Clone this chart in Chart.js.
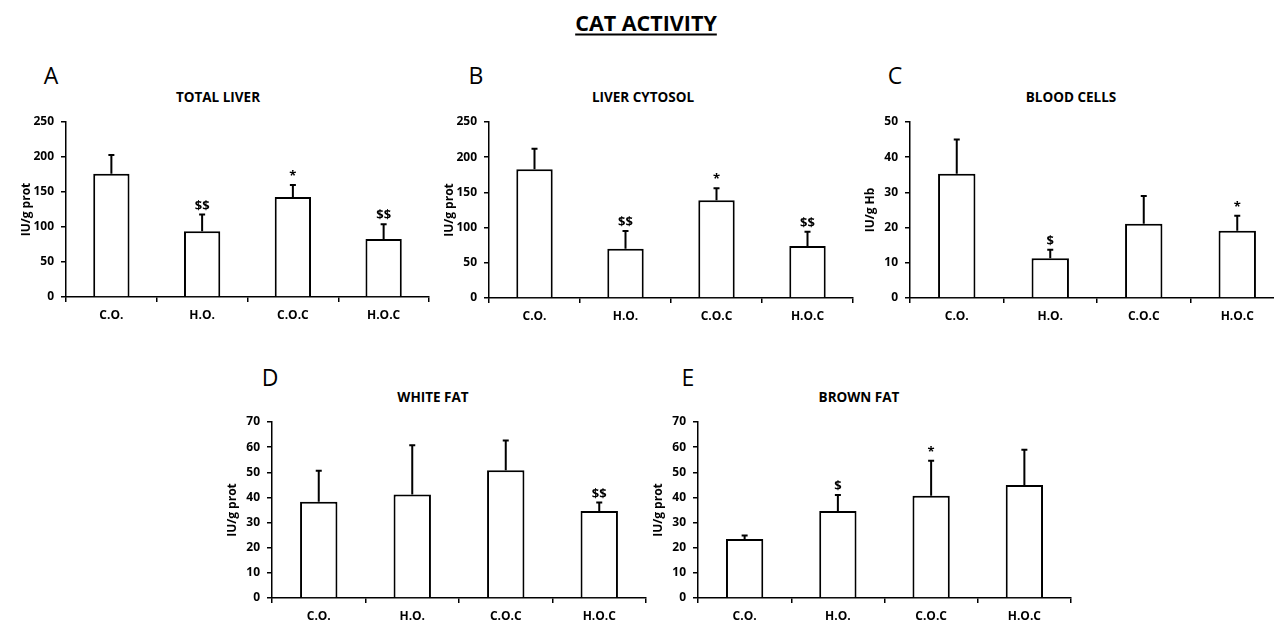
<!DOCTYPE html>
<html>
<head>
<meta charset="utf-8">
<script src="https://cdn.jsdelivr.net/npm/chart.js@4"></script>
<style>
  body { margin: 0; background: #fff; width: 1274px; height: 624px; overflow: hidden; position: relative; font-family: "Open Sans", Lato, sans-serif; }
  canvas { position: absolute; }
  .txt { position: absolute; color: #000; white-space: nowrap; transform: translate(-50%, -50%); }
  #mainTitle { left: 646px; top: 22px; font-size: 21.5px; font-weight: bold; text-decoration: underline; text-underline-offset: 3px; text-decoration-thickness: 2px; }
  .letter { font-size: 23px; }
  .sub { font-size: 13.5px; font-weight: bold; }
</style>
</head>
<body>
<div id="mainTitle" class="txt">CAT ACTIVITY</div>

<script>
const categories = ["C.O.", "H.O.", "C.O.C", "H.O.C"];

const totalLiverMeans = [176, 94, 143, 83];
const totalLiverErrors = [27, 24, 17, 21];
const totalLiverMarks = ["", "$$", "*", "$$"];

const cytosolMeans = [183, 70, 139, 74];
const cytosolErrors = [29, 25, 17, 20];
const cytosolMarks = ["", "$$", "*", "$$"];

const bloodMeans = [35.3, 11.3, 21.1, 19.1];
const bloodErrors = [9.7, 2.4, 7.9, 4.3];
const bloodMarks = ["", "$", "", "*"];

const whiteFatMeans = [38.3, 41.2, 50.8, 34.6];
const whiteFatErrors = [12.3, 19.6, 11.8, 3.4];
const whiteFatMarks = ["", "", "", "$$"];

const brownFatMeans = [23.5, 34.6, 40.7, 44.9];
const brownFatErrors = [1.4, 6.4, 13.9, 14.1];
const brownFatMarks = ["", "$", "*", ""];

const liverTicks = [0, 50, 100, 150, 200, 250];
const bloodTicks = [0, 10, 20, 30, 40, 50];
const fatTicks = [0, 10, 20, 30, 40, 50, 60, 70];

const FONT = "'Open Sans', Lato, sans-serif";

// upper error bars + significance marks
const errorBars = {
  id: "errorBars",
  afterDatasetsDraw(chart, args, opts) {
    const ctx = chart.ctx;
    const meta = chart.getDatasetMeta(0);
    const yScale = chart.scales.y;
    const values = chart.data.datasets[0].data;
    ctx.save();
    ctx.strokeStyle = "#000";
    ctx.fillStyle = "#000";
    ctx.lineWidth = 2;
    ctx.textAlign = "center";
    ctx.textBaseline = "bottom";
    ctx.font = "bold 13px " + FONT;
    meta.data.forEach((bar, i) => {
      const top = yScale.getPixelForValue(values[i] + opts.errors[i]);
      ctx.beginPath();
      ctx.moveTo(bar.x, bar.y);
      ctx.lineTo(bar.x, top);
      ctx.moveTo(bar.x - 3, top);
      ctx.lineTo(bar.x + 3, top);
      ctx.stroke();
      if (opts.marks[i]) ctx.fillText(opts.marks[i], bar.x, top - 2);
    });
    ctx.restore();
  },
};

const panels = [
  { letter: "A", title: "TOTAL LIVER", yTitle: "IU/g prot", means: totalLiverMeans, errors: totalLiverErrors, marks: totalLiverMarks, ticks: liverTicks,
    left: 66, top: 122, w: 363, h: 175, letterX: 51, letterY: 75, subX: 218, subY: 97 },
  { letter: "B", title: "LIVER CYTOSOL", yTitle: "IU/g prot", means: cytosolMeans, errors: cytosolErrors, marks: cytosolMarks, ticks: liverTicks,
    left: 489, top: 122, w: 364, h: 176, letterX: 476, letterY: 75, subX: 643, subY: 97 },
  { letter: "C", title: "BLOOD CELLS", yTitle: "IU/g Hb", means: bloodMeans, errors: bloodErrors, marks: bloodMarks, ticks: bloodTicks,
    left: 910, top: 122, w: 374, h: 176, letterX: 895, letterY: 75, subX: 1071, subY: 97 },
  { letter: "D", title: "WHITE FAT", yTitle: "IU/g prot", means: whiteFatMeans, errors: whiteFatErrors, marks: whiteFatMarks, ticks: fatTicks,
    left: 272, top: 422, w: 374, h: 176, letterX: 270, letterY: 377, subX: 433, subY: 397 },
  { letter: "E", title: "BROWN FAT", yTitle: "IU/g prot", means: brownFatMeans, errors: brownFatErrors, marks: brownFatMarks, ticks: fatTicks,
    left: 698, top: 422, w: 373, h: 176, letterX: 688, letterY: 377, subX: 859, subY: 397 },
];

const Y_W = 51, PAD_TOP = 20, X_H = 30, PAD_R = 2;

panels.forEach((p) => {
  const letter = document.createElement("div");
  letter.className = "txt letter";
  letter.style.left = p.letterX + "px";
  letter.style.top = p.letterY + "px";
  letter.textContent = p.letter;
  document.body.appendChild(letter);

  const sub = document.createElement("div");
  sub.className = "txt sub";
  sub.style.left = p.subX + "px";
  sub.style.top = p.subY + "px";
  sub.textContent = p.title;
  document.body.appendChild(sub);

  const canvas = document.createElement("canvas");
  canvas.width = Y_W + p.w + PAD_R;
  canvas.height = PAD_TOP + p.h + X_H;
  canvas.style.left = p.left - Y_W + "px";
  canvas.style.top = p.top - PAD_TOP + "px";
  document.body.appendChild(canvas);

  const tickMax = p.ticks[p.ticks.length - 1];
  const tickStep = p.ticks[1] - p.ticks[0];

  new Chart(canvas.getContext("2d"), {
    type: "bar",
    data: {
      labels: categories,
      datasets: [
        {
          data: p.means,
          backgroundColor: "#fff",
          borderColor: "#000",
          borderWidth: 2,
          borderSkipped: "bottom",
          categoryPercentage: 1,
          barPercentage: 0.4,
        },
      ],
    },
    options: {
      responsive: false,
      animation: false,
      events: [],
      layout: { padding: { top: PAD_TOP, right: PAD_R, left: 0, bottom: 0 } },
      plugins: {
        legend: { display: false },
        tooltip: { enabled: false },
        errorBars: { errors: p.errors, marks: p.marks },
      },
      scales: {
        x: {
          afterFit: (scale) => { scale.height = X_H; },
          border: { color: "#000", width: 1.5 },
          grid: { drawOnChartArea: false, tickColor: "#000", tickLength: 5, lineWidth: 1.5 },
          ticks: { color: "#000", padding: 6, font: { family: FONT, size: 12, weight: "bold" } },
        },
        y: {
          min: 0,
          max: tickMax,
          afterFit: (scale) => { scale.width = Y_W; },
          border: { color: "#000", width: 1.5 },
          grid: { drawOnChartArea: false, tickColor: "#000", tickLength: 5, lineWidth: 1.5 },
          ticks: { color: "#000", stepSize: tickStep, padding: 7, font: { family: FONT, size: 12, weight: "bold" } },
          title: { display: true, text: p.yTitle, color: "#000", font: { family: FONT, size: 12, weight: "bold" } },
        },
      },
    },
    plugins: [errorBars],
  });
});
</script>
</body>
</html>
